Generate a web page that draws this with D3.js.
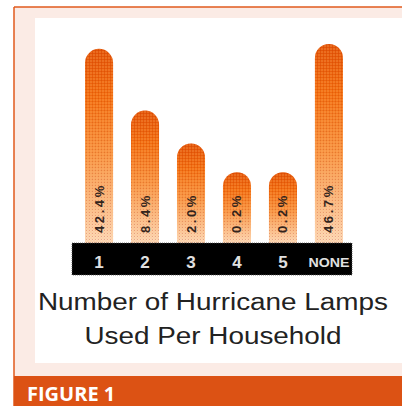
<!DOCTYPE html>
<html>
<head>
<meta charset="utf-8">
<script src="https://cdn.jsdelivr.net/npm/d3@7"></script>
<style>
  body { margin: 0; background: #fff; }
  svg { display: block; }
</style>
</head>
<body>
<svg id="chart" width="402" height="406"></svg>
<script>
// chart data
var categories = ["1", "2", "3", "4", "5", "NONE"];
var values = [42.4, 8.4, 2.0, 0.2, 0.2, 46.7];
var valueLabels = ["42.4%", "8.4%", "2.0%", "0.2%", "0.2%", "46.7%"];
var titleLines = ["Number of Hurricane Lamps", "Used Per Household"];
var figureLabel = "FIGURE 1";

var svg = d3.select("#chart"),
    width = +svg.attr("width"),
    height = +svg.attr("height");

var defs = svg.append("defs");

// bar gradient, dark orange top to pale peach bottom
var grad = defs.append("linearGradient")
    .attr("id", "barGrad")
    .attr("x1", 0).attr("y1", 0).attr("x2", 0).attr("y2", 1);
grad.append("stop").attr("offset", "0%").attr("stop-color", "#e25208");
grad.append("stop").attr("offset", "25%").attr("stop-color", "#f26c10");
grad.append("stop").attr("offset", "55%").attr("stop-color", "#f89444");
grad.append("stop").attr("offset", "100%").attr("stop-color", "#fddcc0");

// halftone dots
var pat = defs.append("pattern")
    .attr("id", "dots")
    .attr("width", 3).attr("height", 3)
    .attr("patternUnits", "userSpaceOnUse");
pat.append("circle").attr("cx", 1).attr("cy", 1).attr("r", 0.8)
    .attr("fill", "#ffc070").attr("opacity", 0.5);
pat.append("circle").attr("cx", 2.5).attr("cy", 2.5).attr("r", 0.7)
    .attr("fill", "#c03c00").attr("opacity", 0.3);

// frame
svg.append("rect").attr("x", 14).attr("y", 7).attr("width", width - 14).attr("height", 370)
    .attr("fill", "#fbebe5");
svg.append("line").attr("x1", 14).attr("y1", 7).attr("x2", width).attr("y2", 7)
    .attr("stroke", "#e05a1c").attr("stroke-width", 1.5);
svg.append("line").attr("x1", 14).attr("y1", 7).attr("x2", 14).attr("y2", height)
    .attr("stroke", "#e05a1c").attr("stroke-width", 1.5);
svg.append("rect").attr("x", 35).attr("y", 18).attr("width", width - 35).attr("height", 345)
    .attr("fill", "#ffffff");
svg.append("rect").attr("x", 14).attr("y", 376).attr("width", width - 14).attr("height", height - 376)
    .attr("fill", "#dc5214");

svg.append("text")
    .attr("x", 27).attr("y", 401)
    .attr("font-family", "'Open Sans', sans-serif")
    .attr("font-weight", "bold")
    .attr("font-size", 20)
    .attr("fill", "#fff")
    .text(figureLabel);

// scales
var x = d3.scaleBand()
    .domain(categories)
    .range([74, 354])
    .paddingInner(0.39)
    .paddingOuter(0.24);

var y = d3.scalePow()
    .exponent(1 / 3)
    .domain([0, 50])
    .range([197, 40.4]);

var barBottom = 243;

function barPath(d, i) {
  var x0 = x(categories[i]), w = x.bandwidth(), r = w / 2;
  var top = y(d);
  return "M" + x0 + "," + barBottom +
         "L" + x0 + "," + (top + r) +
         "A" + r + "," + r + " 0 0 1 " + (x0 + w) + "," + (top + r) +
         "L" + (x0 + w) + "," + barBottom + "Z";
}

var bars = svg.append("g").attr("class", "bars");

bars.selectAll("path.bar")
    .data(values)
    .enter().append("path")
    .attr("class", "bar")
    .attr("d", barPath)
    .attr("fill", "url(#barGrad)");

bars.selectAll("path.tex")
    .data(values)
    .enter().append("path")
    .attr("class", "tex")
    .attr("d", barPath)
    .attr("fill", "url(#dots)");

// value labels, rotated
bars.selectAll("text")
    .data(valueLabels)
    .enter().append("text")
    .attr("transform", function(d, i) {
      return "translate(" + (x(categories[i]) + x.bandwidth() / 2 + 4.5) + ",233) rotate(-90)";
    })
    .attr("font-family", "'Liberation Sans', Arial, sans-serif")
    .attr("font-weight", "bold")
    .attr("font-size", 13)
    .attr("letter-spacing", 2.6)
    .attr("fill", "#33241c")
    .text(function(d) { return d; });

// black category strip
svg.append("rect")
    .attr("x", 72).attr("y", barBottom)
    .attr("width", 280).attr("height", 32)
    .attr("fill", "#000")
    .attr("stroke", "#555")
    .attr("stroke-width", 0.8)
    .attr("stroke-dasharray", "1,1");

svg.append("g").selectAll("text")
    .data(categories)
    .enter().append("text")
    .attr("x", function(d) { return x(d) + x.bandwidth() / 2; })
    .attr("y", function(d) { return d == "NONE" ? 267 : 268; })
    .attr("text-anchor", "middle")
    .attr("font-family", "'Liberation Sans', Arial, sans-serif")
    .attr("font-weight", "bold")
    .attr("font-size", function(d) { return d == "NONE" ? 12 : 17; })
    .attr("textLength", function(d) { return d == "NONE" ? 41 : null; })
    .attr("lengthAdjust", "spacingAndGlyphs")
    .attr("fill", "#e0e0e0")
    .text(function(d) { return d; });

// axis title
svg.append("g").selectAll("text")
    .data(titleLines)
    .enter().append("text")
    .attr("x", 213)
    .attr("y", function(d, i) { return 310 + i * 34; })
    .attr("text-anchor", "middle")
    .attr("font-family", "'Liberation Sans', Arial, sans-serif")
    .attr("font-size", 23)
    .attr("textLength", function(d, i) { return i == 0 ? 350 : 257; })
    .attr("lengthAdjust", "spacingAndGlyphs")
    .attr("fill", "#222")
    .text(function(d) { return d; });
</script>
</body>
</html>
